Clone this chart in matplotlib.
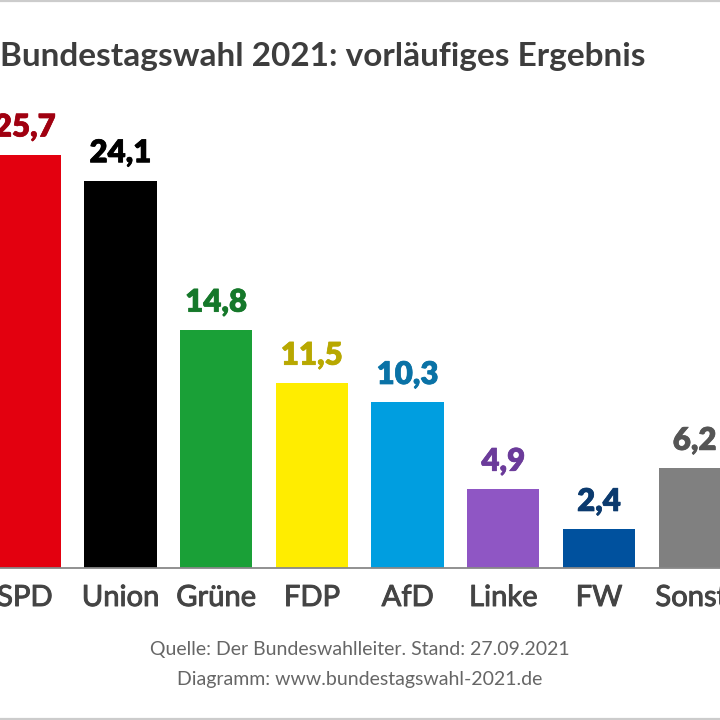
import matplotlib
matplotlib.use("Agg")
import matplotlib.pyplot as plt
from matplotlib.lines import Line2D
import matplotlib.patheffects as pe

parties = ["SPD", "Union", "Grüne", "FDP", "AfD", "Linke", "FW", "Sonst."]
values = [25.7, 24.1, 14.8, 11.5, 10.3, 4.9, 2.4, 6.2]
value_labels = ["25,7", "24,1", "14,8", "11,5", "10,3", "4,9", "2,4", "6,2"]
bar_colors = ["#E3000F", "#000000", "#1AA037", "#FFED00", "#009EE0", "#8F56C4", "#00519E", "#808080"]
label_colors = ["#A00010", "#000000", "#15782A", "#B8A800", "#0A72A6", "#6B3B9A", "#0B3A6E", "#555555"]

title = "Bundestagswahl 2021: vorläufiges Ergebnis"
footer1 = "Quelle: Der Bundeswahlleiter. Stand: 27.09.2021"
footer2 = "Diagramm: www.bundestagswahl-2021.de"

W = H = 720
fig = plt.figure(figsize=(7.2, 7.2), dpi=100)
fig.patch.set_facecolor("white")

base_px = 568       # baseline from top
top_px = 90
px_per_unit = 16.07
spacing = 95.7
first_center = 24.8

ax = fig.add_axes([0, (H - base_px) / H, 1, (base_px - top_px) / H])
ax.set_xlim(-first_center / spacing, -first_center / spacing + W / spacing)
ax.set_ylim(0, (base_px - top_px) / px_per_unit)
ax.axis("off")

x = list(range(len(parties)))
ax.bar(x, values, width=0.755, color=bar_colors, linewidth=0)
for xi, v, lab, c in zip(x, values, value_labels, label_colors):
    t = ax.annotate(lab, (xi, v), xytext=(0, 13.3), textcoords="offset points",
                    ha="center", va="baseline", fontsize=22.5, fontweight="heavy",
                    family="Lato", color=c, annotation_clip=False)
    t.set_path_effects([pe.Stroke(linewidth=0.5, foreground=c), pe.Normal()])

# baseline
fig.add_artist(Line2D([0, 1], [(H - base_px) / H] * 2, color="#888888", lw=1.3))
# borders
fig.add_artist(Line2D([0, 1], [1 - 1.0 / H] * 2, color="#cccccc", lw=1.6))
fig.add_artist(Line2D([0, 1], [1.0 / H] * 2, color="#cccccc", lw=1.6))

# category labels
for xi, p in zip(x, parties):
    t = ax.text(xi, -30 / px_per_unit, p, ha="center", va="center", fontsize=21,
                family="Lato", color="#444444", clip_on=False)
    t.set_path_effects([pe.Stroke(linewidth=0.7, foreground="#444444"), pe.Normal()])

fig.text(0.0 / W, 1 - 66 / H, title, ha="left", va="baseline", fontsize=24,
         fontweight="bold", family="Lato", color="#3d3d3d")
fig.text(360 / W, 1 - 650 / H, footer1, ha="center", va="center", fontsize=14,
         family="Lato", color="#666666")
fig.text(360 / W, 1 - 679 / H, footer2, ha="center", va="center", fontsize=14,
         family="Lato", color="#666666")

fig.savefig("out.png", dpi=100, facecolor="white")
